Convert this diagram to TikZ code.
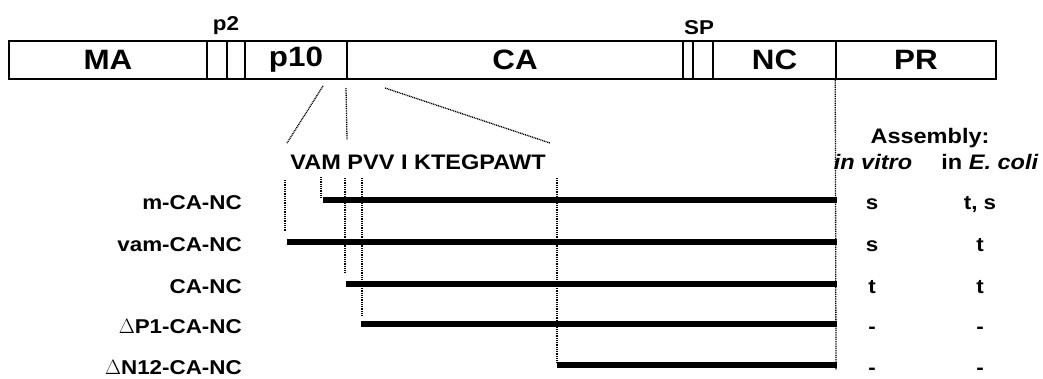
\documentclass[tikz,border=0pt]{standalone}
\usepackage{fontspec}
\setmainfont{Liberation Sans}[FakeStretch=1.12]
\usetikzlibrary{calc}

\begin{document}
\begin{tikzpicture}[x=1pt, y=-1pt,
    seg/.style={draw, line width=1.5pt, inner sep=0pt, minimum height=38pt,
                font=\bfseries\fontsize{28}{28}\selectfont},
    tag/.style={font=\bfseries\fontsize{20}{20}\selectfont, inner sep=0pt},
    rowtag/.style={font=\bfseries\fontsize{20}{20}\selectfont, inner sep=0pt, anchor=base},
    dots/.style={line width=1.3pt, dash pattern=on 1pt off 0.8pt},
    cbar/.style={line width=6.5pt}]

\useasboundingbox (0,0) rectangle (1043,378);

% ── Gag polyprotein bar ──────────────────────────────────────────
\foreach \nm/\xl/\xr/\lab in {MA/9/207/MA, p2a/207/227/, p2b/227/245/, p10/245/347/p10,
        CA/347/683/CA, spa/683/693/, spb/693/713/, NC/713/836/NC, PR/836/996/PR} {
    \node[seg, minimum width={(\xr-\xl)*1pt}] (\nm) at ({(\xl+\xr)/2}, 60) {\lab};
}
\node[tag] (p2lab) at (226, 26) {p2};
\node[tag] (splab) at (699, 28) {SP};

% ── Zoom onto the p10/CA junction ───────────────────────────────
\node[font=\bfseries\fontsize{21}{21}\selectfont, inner sep=0pt] (seq) at (418, 162) {VAM PVV I KTEGPAWT};

\coordinate (za) at (323, 86);
\coordinate (zb) at (346, 88);
\coordinate (zc) at (385, 88);
\coordinate (sa) at (287, 143);
\coordinate (sb) at (347, 140);
\coordinate (sc) at (550, 143);
\draw[dots] (za) -- (sa);
\draw[dots] (zb) -- (sb);
\draw[dots] (zc) -- (sc);

% ── Constructs ──────────────────────────────────────────────────
\coordinate (bend) at (837, 0);
\foreach \nm/\y/\xs/\lab/\vit/\eco in {m/200/323/m-CA-NC/s/{t, s},
        vam/242/287/vam-CA-NC/s/t,
        ca/284/346/CA-NC/t/t,
        dp/324/361/{$\Delta$P1-CA-NC}/-/-,
        dn/365/557/{$\Delta$N12-CA-NC}/-/-} {
    \coordinate (\nm-s) at (\xs, \y);
    \coordinate (\nm-e) at (bend |- \nm-s);
    \draw[cbar] (\nm-s) -- (\nm-e);
    \node[rowtag, anchor=base east] (\nm-lab) at (242, \y+9) {\lab};
    \node[rowtag] (\nm-vit) at (872, \y+9) {\vit};
    \node[rowtag] (\nm-eco) at (980, \y+9) {\eco};
}

% guide lines down to the construct starts
\coordinate (ga) at (285, 180);
\coordinate (gb) at (321, 177);
\coordinate (gc) at (345, 178);
\coordinate (gd) at (362, 178);
\coordinate (ge) at (557, 178);
\draw[dots] (ga) -- (285, 232);
\draw[dots] (gb) -- ($(m-s)+(-2,-2)$);
\draw[dots] (gc) -- (345, 273);
\draw[dots] (gd) -- (362, 315);
\draw[dots] (ge) -- ($(dn-s)+(0,-3)$);

\coordinate (gend) at (836, 370);
\draw[dots] (PR.south west) -- (gend);

% ── Assembly header ─────────────────────────────────────────────
\node[font=\bfseries\fontsize{21}{21}\selectfont, inner sep=0pt] (asm) at (930, 138) {Assembly:};
\node[font=\bfseries\itshape\fontsize{21}{21}\selectfont, inner sep=0pt, anchor=base] (invitro) at (873, 169) {in vitro};
\node[font=\bfseries\fontsize{21}{21}\selectfont, inner sep=0pt, anchor=base] (inecoli) at (990, 169) {in \textit{E. coli}};

\end{tikzpicture}
\end{document}
